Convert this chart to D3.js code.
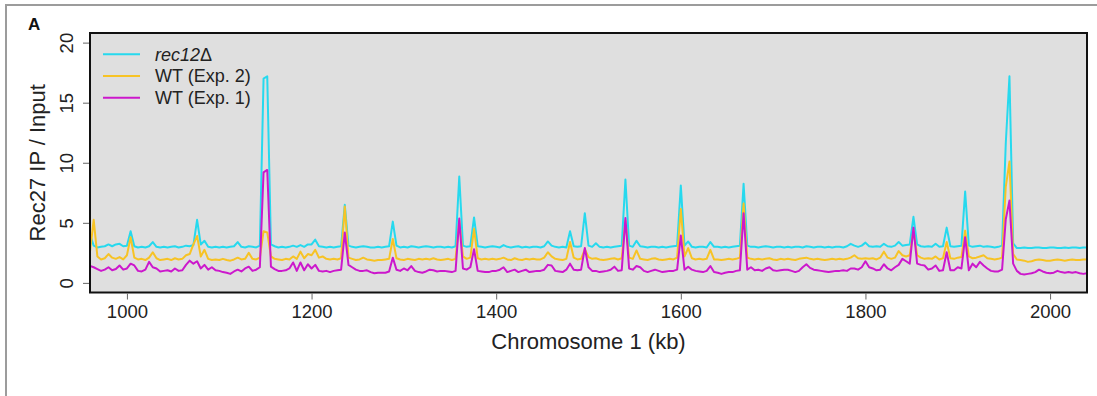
<!DOCTYPE html>
<html>
<head>
<meta charset="utf-8">
<script src="https://cdn.jsdelivr.net/npm/d3@7"></script>
<style>
  html, body { margin: 0; padding: 0; background: #fff; }
  svg { display: block; font-family: "Liberation Sans", Arial, Helvetica, sans-serif; }
</style>
</head>
<body>
<div id="chart"></div>
<script>
// Genome bins along chromosome 1, one every 4 kb (960 .. 2040 kb)
const positions = d3.range(960, 2041, 4);

// Rec27 IP / Input, 10 bins per row (40 kb)
const rec12Delta = [
  4.0, 3.1, 2.95, 3.0, 3.05, 3.2, 3.05, 3.2, 3.25, 3.05,
  3.1, 4.3, 3.05, 2.95, 3.0, 2.95, 3.05, 3.4, 3.0, 2.95,
  3.0, 2.95, 3.0, 3.05, 2.95, 3.0, 3.1, 3.05, 3.15, 5.25,
  3.2, 3.5, 3.0, 2.95, 3.0, 2.95, 3.0, 2.95, 3.0, 3.05,
  3.4, 3.0, 2.95, 3.05, 3.0, 2.95, 3.1, 17.0, 17.2, 3.2,
  3.05, 2.95, 3.0, 2.95, 3.0, 3.1, 3.0, 3.15, 3.0, 3.2,
  3.2, 3.6, 3.05, 3.0, 2.95, 3.0, 2.95, 3.0, 3.05, 6.5,
  3.1, 3.0, 2.95, 3.0, 3.05, 3.0, 2.95, 2.95, 3.0, 2.95,
  3.0, 3.05, 5.1, 3.1, 2.95, 3.0, 2.95, 3.05, 3.0, 2.95,
  3.0, 3.05, 3.0, 2.95, 3.0, 3.0, 2.95, 3.0, 2.95, 3.05,
  8.85, 3.1, 3.0, 3.05, 5.45, 3.05, 3.0, 2.95, 3.0, 3.05,
  3.0, 2.95, 3.15, 3.0, 2.95, 3.0, 3.05, 2.95, 3.0, 2.95,
  3.0, 3.0, 2.95, 3.05, 3.45, 3.1, 3.0, 2.95, 3.0, 2.95,
  4.3, 3.05, 3.0, 3.05, 5.8, 3.1, 3.0, 3.3, 3.0, 2.95,
  3.0, 2.95, 3.0, 3.05, 3.1, 8.6, 3.1, 3.0, 3.5, 3.05,
  3.0, 2.95, 3.0, 3.0, 2.95, 3.0, 2.95, 3.0, 3.05, 3.1,
  8.1, 3.1, 3.45, 3.0, 2.95, 3.0, 3.0, 2.95, 3.4, 3.0,
  3.0, 2.95, 3.0, 2.95, 3.0, 3.05, 3.1, 8.25, 3.1, 3.0,
  3.0, 2.95, 3.0, 3.05, 3.0, 2.95, 3.0, 3.0, 2.95, 3.0,
  2.95, 3.0, 3.0, 2.95, 3.05, 3.0, 2.95, 3.0, 3.0, 2.95,
  3.0, 2.95, 3.0, 3.0, 2.95, 3.05, 3.25, 3.1, 3.0, 3.1,
  3.35, 3.05, 3.0, 3.05, 3.0, 3.25, 3.05, 3.0, 3.1, 3.4,
  3.1, 3.15, 3.2, 5.5, 3.2, 3.05, 3.0, 3.05, 3.0, 3.25,
  3.0, 3.05, 4.6, 3.05, 3.0, 3.05, 3.1, 7.6, 3.1, 3.0,
  3.05, 3.1, 3.0, 3.05, 3.0, 2.95, 3.0, 3.1, 11.6, 17.2,
  3.3, 2.9, 2.9, 2.95, 2.9, 2.9, 2.95, 2.95, 2.9, 2.9,
  2.95, 2.95, 2.9, 2.9, 2.95, 2.9, 2.95, 2.95, 2.9, 2.95,
  2.95
];

const wtExp2 = [
  2.6, 5.25, 2.2, 1.95, 2.05, 2.4, 2.1, 2.0, 2.15, 1.95,
  2.3, 3.8, 2.1, 1.95, 2.0, 1.9, 2.1, 2.55, 2.05, 1.9,
  1.95, 2.0, 1.9, 2.05, 1.95, 2.0, 2.3, 2.4, 3.2, 3.9,
  2.2, 2.75, 2.0, 1.9, 1.95, 1.9, 2.0, 1.9, 1.85, 1.95,
  2.1, 1.95, 2.0, 2.5, 2.0, 1.95, 2.1, 4.3, 4.2, 2.2,
  2.0, 1.95, 1.9, 2.0, 1.95, 2.2, 2.0, 2.6, 2.05, 2.4,
  2.3, 2.75, 2.1, 2.2, 2.0, 1.95, 2.0, 1.95, 2.05, 6.35,
  2.1, 2.0, 1.9, 1.95, 2.1, 1.95, 1.9, 1.85, 1.9, 1.9,
  1.95, 2.0, 3.65, 2.05, 1.95, 1.9, 2.0, 1.95, 1.9, 2.0,
  1.95, 2.0, 1.95, 2.05, 1.95, 1.9, 1.95, 2.0, 1.9, 2.0,
  5.2, 2.2, 2.0, 2.1, 4.5, 2.05, 1.95, 2.0, 1.95, 2.0,
  1.95, 2.0, 2.1, 1.95, 1.9, 2.05, 1.95, 1.9, 2.0, 1.95,
  2.0, 1.95, 1.95, 2.1, 2.55, 2.2, 2.0, 1.95, 1.9, 2.0,
  3.4, 2.1, 1.95, 2.0, 2.8, 2.15, 2.0, 2.05, 1.95, 1.9,
  1.95, 2.0, 2.05, 1.95, 2.05, 5.2, 2.1, 2.0, 2.7, 2.0,
  1.95, 1.9, 2.0, 2.05, 1.95, 1.9, 1.95, 2.0, 1.95, 2.1,
  6.15, 2.2, 2.9, 2.05, 1.95, 2.0, 1.95, 2.0, 2.75, 1.95,
  1.95, 1.9, 1.95, 2.0, 1.95, 2.0, 2.1, 6.6, 2.1, 2.0,
  1.95, 2.0, 1.95, 2.0, 2.05, 1.95, 1.9, 2.0, 1.95, 2.0,
  1.95, 1.9, 2.0, 2.05, 2.1, 2.0, 1.95, 2.0, 1.95, 1.9,
  1.95, 2.0, 1.95, 2.0, 1.95, 2.0, 2.1, 2.3, 2.05, 2.0,
  2.05, 2.0, 2.05, 1.95, 2.1, 2.6, 2.1, 2.0, 2.1, 2.65,
  2.3, 2.2, 2.3, 4.4, 2.3, 2.1, 2.0, 2.05, 2.0, 2.2,
  1.95, 2.05, 3.4, 2.05, 2.0, 2.1, 2.15, 4.35, 2.2, 2.05,
  2.1, 2.2, 2.3, 2.05, 2.0, 1.95, 2.0, 2.1, 8.0, 10.1,
  2.4, 1.95, 1.9, 1.85, 1.75, 1.8, 1.9, 1.95, 1.9, 1.85,
  1.85, 1.9, 1.95, 1.9, 1.85, 1.9, 1.95, 1.9, 1.9, 1.95,
  1.95
];

const wtExp1 = [
  1.4, 1.3, 1.15, 1.0, 1.1, 1.3, 1.05, 1.15, 1.45, 1.1,
  1.2, 1.6, 1.45, 1.0, 0.95, 1.1, 1.75, 1.3, 1.2, 0.95,
  1.0, 1.05, 0.95, 1.2, 1.0, 1.05, 1.5, 1.85, 1.6, 1.8,
  1.2, 1.5, 1.1, 1.3, 1.05, 1.0, 0.9, 0.85, 0.75, 0.95,
  1.1, 0.95, 1.2, 1.35, 1.0, 1.1, 1.3, 9.2, 9.4, 1.35,
  1.15, 1.0, 1.0, 1.05, 1.2, 1.7, 1.0, 1.7, 1.05, 1.55,
  1.2, 1.5, 1.0, 0.95, 1.0, 0.9, 1.0, 1.05, 1.1, 4.2,
  1.5, 1.3, 1.1, 1.0, 1.0, 1.05, 0.9, 0.8, 0.85, 0.85,
  0.85, 0.95, 2.1, 1.1, 1.0, 1.2, 1.05, 1.4, 1.0, 0.9,
  0.85, 0.95, 1.1, 1.05, 0.95, 1.0, 1.0, 0.95, 0.9, 1.0,
  5.35, 1.2, 1.1, 1.3, 2.8, 1.0, 0.95, 0.9, 0.9, 1.0,
  1.0, 1.1, 1.3, 0.9, 1.0, 1.1, 0.9, 1.0, 1.1, 0.9,
  0.95, 1.0, 1.0, 1.1, 1.5, 1.45, 1.0, 0.95, 0.9, 1.1,
  1.6, 1.1, 1.05, 1.1, 2.9, 1.3, 1.0, 1.0, 0.9, 0.95,
  1.0, 1.1, 1.35, 1.0, 1.05, 5.4, 1.2, 1.1, 1.4, 1.3,
  1.0, 0.9, 1.0, 1.1, 1.0, 0.9, 0.95, 1.0, 1.0, 1.1,
  3.95, 1.1, 1.35, 1.1, 1.0, 0.95, 0.9, 1.0, 1.4, 0.9,
  0.85, 0.75, 0.85, 0.9, 0.9, 1.0, 1.05, 5.8, 1.1, 1.3,
  1.05, 1.1, 1.0, 1.2, 1.3, 1.05, 1.0, 1.05, 1.1, 1.1,
  1.0, 0.9, 1.0, 1.3, 1.55, 1.25, 1.1, 1.05, 1.0, 0.95,
  0.9, 0.95, 1.0, 1.0, 1.05, 1.0, 1.2, 1.2, 1.1, 1.3,
  1.8, 1.3, 1.2, 1.05, 1.1, 1.55, 1.2, 1.05, 1.3, 1.5,
  2.0, 1.8, 1.6, 4.6, 1.6, 1.5, 1.45, 1.1, 1.2, 1.45,
  1.0, 1.05, 2.55, 1.05, 1.05, 1.3, 1.2, 3.8, 1.05, 1.6,
  1.3, 1.75, 1.45, 1.2, 1.0, 0.95, 0.95, 1.1, 5.3, 6.85,
  1.6, 1.0, 0.75, 0.7, 0.75, 0.8, 0.9, 1.1, 0.95, 0.85,
  0.8, 0.85, 1.0, 0.9, 0.85, 0.9, 0.85, 0.9, 0.8, 0.75,
  0.8
];

const xTicks = [1000, 1200, 1400, 1600, 1800, 2000];
const yTicks = [0, 5, 10, 15, 20];

// drawing order: cyan first, magenta ends up on top
const series = [
  { key: 'rec12', values: rec12Delta, color: '#26d9ee' },
  { key: 'exp2', values: wtExp2, color: '#f7c325' },
  { key: 'exp1', values: wtExp1, color: '#cc18cc' }
];
const legendLabels = { exp2: 'WT (Exp. 2)', exp1: 'WT (Exp. 1)' };

const W = 1097, H = 396;
const plot = { left: 90, right: 1087, top: 33, bottom: 292.5 };

const svg = d3.select('#chart').append('svg')
  .attr('width', W)
  .attr('height', H);

// outer figure frame (only top/left edges fall inside the window)
svg.append('rect')
  .attr('x', 6).attr('y', 5)
  .attr('width', W).attr('height', H)
  .attr('fill', '#fff')
  .attr('stroke', '#9c9c9c')
  .attr('stroke-width', 2);

svg.append('text')
  .attr('x', 28).attr('y', 30)
  .attr('fill', '#111')
  .style('font-size', '17px')
  .style('font-weight', 'bold')
  .text('A');

const x = d3.scaleLinear().domain([960, 2040]).range([plot.left, plot.right]);
const y = d3.scaleLinear().domain([-0.8, 20.8]).range([plot.bottom, plot.top]);

svg.append('defs').append('clipPath').attr('id', 'plot-clip')
  .append('rect')
  .attr('x', plot.left).attr('y', plot.top)
  .attr('width', plot.right - plot.left)
  .attr('height', plot.bottom - plot.top);

svg.append('rect')
  .attr('x', plot.left).attr('y', plot.top)
  .attr('width', plot.right - plot.left)
  .attr('height', plot.bottom - plot.top)
  .attr('fill', '#dfdfdf');

const line = d3.line()
  .x((d, i) => x(positions[i]))
  .y(d => y(d));

svg.append('g')
  .attr('clip-path', 'url(#plot-clip)')
  .selectAll('path')
  .data(series)
  .join('path')
  .attr('fill', 'none')
  .attr('stroke', d => d.color)
  .attr('stroke-width', 2)
  .attr('stroke-linejoin', 'round')
  .attr('d', d => line(d.values));

// box
svg.append('rect')
  .attr('x', plot.left).attr('y', plot.top)
  .attr('width', plot.right - plot.left)
  .attr('height', plot.bottom - plot.top)
  .attr('fill', 'none')
  .attr('stroke', '#111')
  .attr('stroke-width', 2);

// axes
const xAxis = svg.append('g')
  .attr('transform', `translate(0,${plot.bottom})`)
  .call(d3.axisBottom(x).tickValues(xTicks).tickFormat(d3.format('d')).tickSize(7));
xAxis.select('.domain').remove();
xAxis.selectAll('line').attr('stroke', '#666').attr('y1', 1);
xAxis.selectAll('text')
  .attr('y', 25.5).attr('dy', 0)
  .attr('fill', '#222')
  .style('font-size', '18.5px')
  .style('font-family', 'inherit');

const yAxis = svg.append('g')
  .attr('transform', `translate(${plot.left},0)`)
  .call(d3.axisLeft(y).tickValues(yTicks).tickSize(7));
yAxis.select('.domain').remove();
yAxis.selectAll('line').attr('stroke', '#666').attr('x1', -1);
yAxis.selectAll('text')
  .attr('transform', 'rotate(-90)')
  .attr('x', 0).attr('y', -17).attr('dy', 0)
  .attr('text-anchor', 'middle')
  .attr('fill', '#222')
  .style('font-size', '18.5px')
  .style('font-family', 'inherit');

// axis titles
svg.append('text')
  .attr('x', (plot.left + plot.right) / 2)
  .attr('y', 349)
  .attr('text-anchor', 'middle')
  .attr('fill', '#222')
  .style('font-size', '22px')
  .text('Chromosome 1 (kb)');

svg.append('text')
  .attr('transform', `translate(45,${(plot.top + plot.bottom) / 2}) rotate(-90)`)
  .attr('text-anchor', 'middle')
  .attr('fill', '#222')
  .style('font-size', '22px')
  .text('Rec27 IP / Input');

// legend, top-left inside the plot
const legend = svg.append('g')
  .selectAll('g')
  .data(series)
  .join('g')
  .attr('transform', (d, i) => `translate(103,${54.3 + i * 21.7})`);

legend.append('line')
  .attr('x1', 0).attr('x2', 37)
  .attr('stroke', d => d.color)
  .attr('stroke-width', 2);

legend.append('text')
  .attr('x', 52).attr('y', 6.3)
  .attr('fill', '#222')
  .style('font-size', '18px')
  .each(function(d) {
    const t = d3.select(this);
    if (d.key === 'rec12') {
      t.append('tspan').attr('font-style', 'italic').text('rec12');
      t.append('tspan').text('\u0394');
    } else {
      t.text(legendLabels[d.key]);
    }
  });
</script>
</body>
</html>
